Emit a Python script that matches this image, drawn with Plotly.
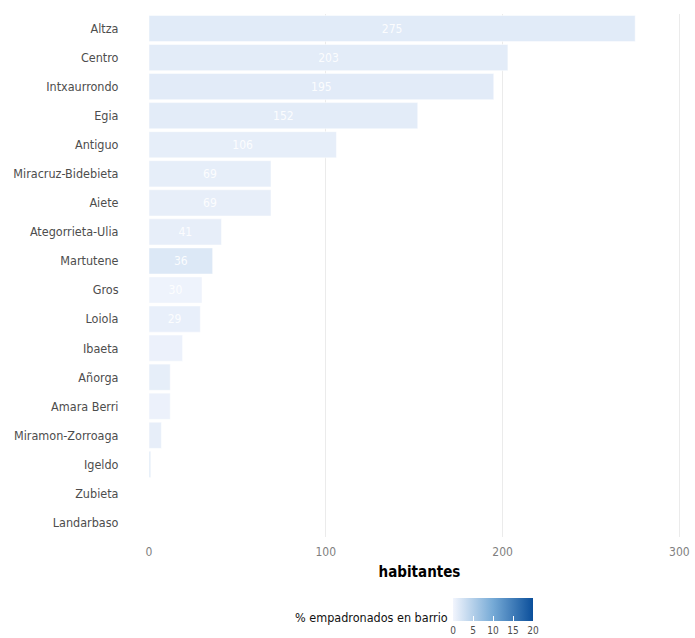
import plotly.graph_objects as go

barrios = ["Altza", "Centro", "Intxaurrondo", "Egia", "Antiguo", "Miracruz-Bidebieta",
           "Aiete", "Ategorrieta-Ulia", "Martutene", "Gros", "Loiola", "Ibaeta",
           "Añorga", "Amara Berri", "Miramon-Zorroaga", "Igeldo", "Zubieta", "Landarbaso"]
habitantes = [275, 203, 195, 152, 106, 69, 69, 41, 36, 30, 29, 19, 12, 12, 7, 1, 0, 0]
pct_empadronados = [1.4, 1.2, 1.3, 1.2, 1.0, 1.0, 0.9, 0.9, 1.8, 0.3, 0.8, 0.5, 1.0, 0.5, 0.9, 1.4, 0.0, 0.0]
bar_labels = ["275", "203", "195", "152", "106", "69", "69", "41", "36", "30", "29",
              "", "", "", "", "", "", ""]
color_ticks = [0, 5, 10, 15, 20]

FONT = "DejaVu Sans Condensed, DejaVu Sans, sans-serif"

fig = go.Figure(go.Bar(
    x=habitantes,
    y=barrios,
    orientation="h",
    text=bar_labels,
    textposition="inside",
    insidetextanchor="middle",
    textfont=dict(color="rgba(255,255,255,0.9)", size=12, family=FONT),
    width=0.9,
    marker=dict(
        color=pct_empadronados,
        cmin=0, cmax=20,
        colorscale=[[0, "#f2f5fd"], [0.5, "#76aad6"], [1, "#0b4f9b"]],
        line=dict(color="white", width=0.5),
        showscale=True,
        colorbar=dict(
            orientation="h",
            x=(453 - 149) / 541, xanchor="left",
            y=(537 - 598) / 523, yanchor="top",
            xpad=0, ypad=0,
            lenmode="pixels", len=80,
            thickness=23,
            outlinewidth=0,
            ticks="inside", ticklen=5, tickcolor="white",
            tickvals=color_ticks,
            tickfont=dict(size=10, color="#4d4d4d", family=FONT),
        ),
    ),
    hoverinfo="x+y",
))

fig.add_annotation(
    text="% empadronados en barrio",
    xref="paper", yref="paper",
    x=(450 - 149) / 541, y=(537 - 617) / 523,
    xanchor="right", yanchor="middle",
    showarrow=False,
    font=dict(size=12.5, color="#111111", family=FONT),
)

fig.update_layout(
    width=695, height=638,
    margin=dict(l=149, r=5, t=14, b=101, autoexpand=False),
    plot_bgcolor="white",
    paper_bgcolor="white",
    showlegend=False,
    font=dict(family=FONT),
    xaxis=dict(
        range=[0, 306],
        tickvals=[0, 100, 200, 300],
        showgrid=True, gridcolor="#ebebeb", gridwidth=1,
        zeroline=False,
        automargin=False,
        tickfont=dict(size=12, color="#7f7f7f", family=FONT),
        title=dict(text="<b>habitantes</b>", font=dict(size=15, color="black", family=FONT), standoff=8),
        ticks="outside", ticklen=4, tickcolor="white",
    ),
    yaxis=dict(
        autorange="reversed",
        showgrid=False,
        automargin=False,
        tickfont=dict(size=12.5, color="#4d4d4d", family=FONT),
        ticks="outside", ticklen=4, tickcolor="white",
        ticklabelstandoff=23,
    ),
)

fig.write_html("out.html", config={"displayModeBar": False},
               post_script="document.body.style.margin='0';")
